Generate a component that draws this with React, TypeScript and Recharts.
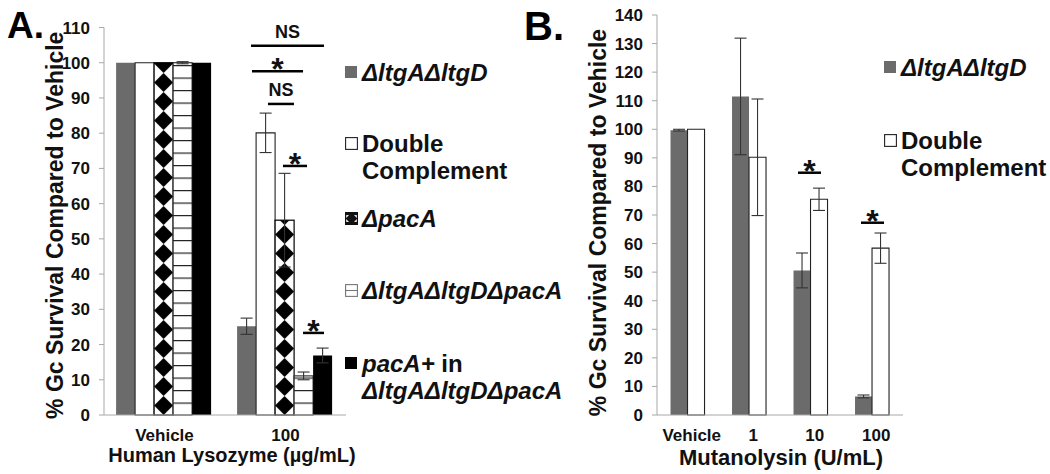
import React from 'react';
import { BarChart, Bar, XAxis, YAxis, ErrorBar, ReferenceLine, Legend } from 'recharts';

const FONT = '"Liberation Sans", Arial, Helvetica, sans-serif';
const AXIS = '#a8a8a8';
const GRAY = '#6b6b6b';
const INK = '#111111';

// ---------- Panel A : Human lysozyme ----------
const lysCategories = ['Vehicle', '100'];
const lysDouble = [100, 25.2];
const lysDoubleErr = [0, 2.3];
const lysDoubleComp = [100, 80.1];
const lysDoubleCompErr = [0, 5.6];
const lysPacA = [100, 55.3];
const lysPacAErr = [0, 13.3];
const lysTriple = [100, 11.1];
const lysTripleErr = [0.3, 1.1];
const lysPacAComp = [100, 16.9];
const lysPacACompErr = [0, 2.1];
const lysYTicks = [0, 10, 20, 30, 40, 50, 60, 70, 80, 90, 100, 110];
const lysCatTicks = [0, 1, 2];

// significance brackets (x in category units 0..2, y in %)
const lysSigLabels = ['NS', '*', 'NS', '*', '*'];
const lysSigFrom = [1.215, 1.223, 1.355, 1.479, 1.645];
const lysSigTo = [1.818, 1.645, 1.57, 1.678, 1.818];
const lysSigY = [104.8, 97.6, 88.3, 70.7, 23.3];

// ---------- Panel B : Mutanolysin ----------
const mutCategories = ['Vehicle', '1', '10', '100'];
const mutDouble = [99.7, 111.5, 50.6, 6.5];
const mutDoubleErr = [0.3, 20.4, 6.1, 0.5];
const mutDoubleComp = [100, 90.2, 75.5, 58.4];
const mutDoubleCompErr = [0, 20.4, 3.9, 5.3];
const mutYTicks = [0, 10, 20, 30, 40, 50, 60, 70, 80, 90, 100, 110, 120, 130, 140];
const mutCatTicks = [0, 1, 2, 3, 4];

const mutSigLabels = ['*', '*'];
const mutSigFrom = [2.293, 3.317];
const mutSigTo = [2.667, 3.691];
const mutSigY = [84.8, 67.3];

const lysData = lysCategories.map((cat, i) => ({
  cat,
  pos: i + 0.5,
  dbl: lysDouble[i],
  dblErr: lysDoubleErr[i],
  comp: lysDoubleComp[i],
  compErr: lysDoubleCompErr[i],
  pac: lysPacA[i],
  pacErr: lysPacAErr[i],
  tri: lysTriple[i],
  triErr: lysTripleErr[i],
  pcomp: lysPacAComp[i],
  pcompErr: lysPacACompErr[i],
}));

const mutData = mutCategories.map((cat, i) => ({
  cat,
  pos: i + 0.5,
  dbl: mutDouble[i],
  dblErr: mutDoubleErr[i],
  comp: mutDoubleComp[i],
  compErr: mutDoubleCompErr[i],
}));

const DiamondBar = (props: any) => {
  const { x, y, width, height, index, pid } = props;
  if (width == null || height == null || height <= 0) return null;
  const id = `dia-${pid}-${index}`;
  const th = width;
  return (
    <g>
      <defs>
        <pattern id={id} patternUnits="userSpaceOnUse" x={x} y={y + height} width={width} height={th}>
          <rect x={0} y={0} width={width} height={th} fill="#fff" />
          <polygon points={`${width / 2},0 ${width},${th / 2} ${width / 2},${th} 0,${th / 2}`} fill="#000" />
        </pattern>
      </defs>
      <rect x={x} y={y} width={width} height={height} fill={`url(#${id})`} stroke="#000" strokeWidth={1.2} />
    </g>
  );
};

const StripeBar = (props: any) => {
  const { x, y, width, height, index, pid } = props;
  if (width == null || height == null || height <= 0) return null;
  const id = `str-${pid}-${index}`;
  const th = 12.5;
  return (
    <g>
      <defs>
        <pattern id={id} patternUnits="userSpaceOnUse" x={x} y={y + height} width={width} height={th}>
          <rect x={0} y={0} width={width} height={th} fill="#fff" />
          <line x1={0} x2={width} y1={0.6} y2={0.6} stroke="#222" strokeWidth={1.2} />
        </pattern>
      </defs>
      <rect x={x} y={y} width={width} height={height} fill={`url(#${id})`} stroke="#222" strokeWidth={1.1} />
    </g>
  );
};

const Swatch = ({ kind }: { kind: string }) => {
  if (kind === 'gray') return <svg width={12} height={12}><rect x={0} y={0} width={12} height={12} fill={GRAY} /></svg>;
  if (kind === 'black') return <svg width={12} height={12}><rect x={0} y={0} width={12} height={12} fill="#000" /></svg>;
  if (kind === 'white')
    return <svg width={13} height={13}><rect x={0.6} y={0.6} width={11.8} height={11.8} fill="#fff" stroke="#222" strokeWidth={1.1} /></svg>;
  if (kind === 'stripe')
    return (
      <svg width={13} height={13}>
        <rect x={0.6} y={0.6} width={11.8} height={11.8} fill="#fff" stroke="#777" strokeWidth={1.1} />
        <line x1={0.6} x2={12.4} y1={6.5} y2={6.5} stroke="#777" strokeWidth={1.1} />
      </svg>
    );
  return (
    <svg width={13} height={13}>
      <rect x={0.6} y={0.6} width={11.8} height={11.8} fill="#fff" stroke="#111" strokeWidth={1.2} />
      <polygon points="6.5,0.6 12.4,6.5 6.5,12.4 0.6,6.5" fill="#111" />
      <rect x={0.6} y={0.6} width={11.8} height={2.5} fill="#111" />
      <rect x={0.6} y={9.9} width={11.8} height={2.5} fill="#111" />
    </svg>
  );
};

const it = (s: string) => <span style={{ fontStyle: 'italic' }}>{s}</span>;

const legendA = [
  { kind: 'gray', top: 72, lines: [[it('ΔltgAΔltgD')]] },
  { kind: 'white', top: 143, lines: [['Double'], ['Complement']] },
  { kind: 'diamond', top: 218, lines: [[it('ΔpacA')]] },
  { kind: 'stripe', top: 290, lines: [[it('ΔltgAΔltgDΔpacA')]] },
  { kind: 'black', top: 363, lines: [[it('pacA+'), ' in'], [it('ΔltgAΔltgDΔpacA')]] },
];

const legendB = [
  { kind: 'gray', top: 67, lines: [[it('ΔltgAΔltgD')]] },
  { kind: 'white', top: 140, lines: [['Double'], ['Complement']] },
];

const LegendBox = ({ items, width }: { items: any[]; width: number }) => (
  <div style={{ position: 'relative', width, height: 420, fontFamily: FONT, fontWeight: 700, fontSize: 24, color: INK, lineHeight: '27px' }}>
    {items.map((item, k) => (
      <div key={k} style={{ position: 'absolute', left: 0, top: item.top - 13.5, display: 'flex', alignItems: 'flex-start' }}>
        <div style={{ width: 13, height: 27, display: 'flex', alignItems: 'center', marginRight: 4 }}>
          <Swatch kind={item.kind} />
        </div>
        <div style={{ whiteSpace: 'nowrap' }}>
          {item.lines.map((ln: any[], j: number) => (
            <div key={j}>{ln.map((p, q) => <React.Fragment key={q}>{p}</React.Fragment>)}</div>
          ))}
        </div>
      </div>
    ))}
  </div>
);

const sigLabel = (text: string) => (props: any) => {
  const vb = props.viewBox || {};
  const cx = (vb.x || 0) + (vb.width || 0) / 2;
  const star = text === '*';
  return (
    <text x={cx} y={(vb.y || 0) + (star ? 9 : -8)} textAnchor="middle" fontFamily={FONT} fontWeight={700} fontSize={star ? 32 : 18} fill={INK}>
      {text}
    </text>
  );
};

const yTitle = (dx: number, dy: number) => (props: any) => {
  const vb = props.viewBox || {};
  const x = vb.x + vb.width + dx;
  const y = vb.y + vb.height / 2 + dy;
  return (
    <text transform={`translate(${x},${y}) rotate(-90)`} textAnchor="middle" dominantBaseline="central" fontFamily={FONT} fontWeight={700} fontSize={23} fill={INK}>
      % Gc Survival Compared to Vehicle
    </text>
  );
};

const xTitle = (text: string, dx: number, dy: number, size: number) => (props: any) => {
  const vb = props.viewBox || {};
  return (
    <text x={vb.x + vb.width / 2 + dx} y={vb.y + dy} textAnchor="middle" fontFamily={FONT} fontWeight={700} fontSize={size} fill={INK}>
      {text}
    </text>
  );
};

const tickStyle = { fontSize: 17, fontWeight: 700, fill: INK, fontFamily: FONT };
const errProps = { width: 6, stroke: '#333', strokeWidth: 1.1 };

export default function App() {
  return (
    <div style={{ position: 'absolute', left: 0, top: 0, width: 1050, height: 474, background: '#fff', fontFamily: FONT }}>
      <div style={{ position: 'absolute', left: 0, top: 0 }}>
        <BarChart width={590} height={474} data={lysData} margin={{ top: 27.5, right: 244, bottom: 29, left: 54 }} barCategoryGap="10%" barGap={0}>
          <XAxis xAxisId="num" dataKey="pos" type="number" domain={[0, 2]} allowDataOverflow ticks={lysCatTicks} tick={false} axisLine={false} tickLine={{ stroke: AXIS }} tickSize={5} height={1} />
          <XAxis dataKey="cat" tickLine={false} axisLine={{ stroke: AXIS }} tick={tickStyle} tickSize={5} tickMargin={9} height={29} interval={0} label={xTitle('Human Lysozyme (µg/mL)', 7, 47, 20)} />
          <YAxis domain={[0, 110]} ticks={lysYTicks} interval={0} width={50} axisLine={{ stroke: AXIS }} tickLine={{ stroke: AXIS }} tickSize={5} tickMargin={9} tick={tickStyle} label={yTitle(-49, 4)} />
          <Bar dataKey="dbl" fill={GRAY} isAnimationActive={false}>
            <ErrorBar dataKey="dblErr" {...errProps} />
          </Bar>
          <Bar dataKey="comp" fill="#fff" stroke="#222" strokeWidth={1.1} isAnimationActive={false}>
            <ErrorBar dataKey="compErr" {...errProps} />
          </Bar>
          <Bar dataKey="pac" fill="#fff" shape={(p: any) => <DiamondBar {...p} pid="a" />} isAnimationActive={false}>
            <ErrorBar dataKey="pacErr" {...errProps} />
          </Bar>
          <Bar dataKey="tri" fill="#fff" shape={(p: any) => <StripeBar {...p} pid="a" />} isAnimationActive={false}>
            <ErrorBar dataKey="triErr" {...errProps} />
          </Bar>
          <Bar dataKey="pcomp" fill="#000" isAnimationActive={false}>
            <ErrorBar dataKey="pcompErr" {...errProps} />
          </Bar>
          {lysSigLabels.map((lab, i) => (
            <ReferenceLine
              key={`ls${i}`}
              xAxisId="num"
              segment={[{ x: lysSigFrom[i], y: lysSigY[i] }, { x: lysSigTo[i], y: lysSigY[i] }]}
              stroke="#000"
              strokeWidth={2.5}
              ifOverflow="visible"
              label={sigLabel(lab)}
            />
          ))}
          <Legend layout="horizontal" verticalAlign="middle" align="center" wrapperStyle={{ left: 345, top: 0 }} content={() => <LegendBox items={legendA} width={240} />} />
        </BarChart>
      </div>

      <div style={{ position: 'absolute', left: 500, top: 0 }}>
        <BarChart width={550} height={474} data={mutData} margin={{ top: 15, right: 147, bottom: 29, left: 107 }} barCategoryGap="22%" barGap={0}>
          <XAxis xAxisId="num" dataKey="pos" type="number" domain={[0, 4]} allowDataOverflow ticks={mutCatTicks} tick={false} axisLine={false} tickLine={{ stroke: AXIS }} tickSize={5} height={1} />
          <XAxis dataKey="cat" tickLine={false} axisLine={{ stroke: AXIS }} tick={{ ...tickStyle, dx: 4 } as any} tickSize={5} tickMargin={9} height={29} interval={0} label={xTitle('Mutanolysin (U/mL)', 1, 50, 22)} />
          <YAxis domain={[0, 140]} ticks={mutYTicks} interval={0} width={50} axisLine={{ stroke: AXIS }} tickLine={{ stroke: AXIS }} tickSize={5} tickMargin={9} tick={tickStyle} label={yTitle(-59, 7.5)} />
          <Bar dataKey="dbl" fill={GRAY} isAnimationActive={false}>
            <ErrorBar dataKey="dblErr" {...errProps} />
          </Bar>
          <Bar dataKey="comp" fill="#fff" stroke="#222" strokeWidth={1.1} isAnimationActive={false}>
            <ErrorBar dataKey="compErr" {...errProps} />
          </Bar>
          {mutSigLabels.map((lab, i) => (
            <ReferenceLine
              key={`ms${i}`}
              xAxisId="num"
              segment={[{ x: mutSigFrom[i], y: mutSigY[i] }, { x: mutSigTo[i], y: mutSigY[i] }]}
              stroke="#000"
              strokeWidth={2.5}
              ifOverflow="visible"
              label={sigLabel(lab)}
            />
          ))}
          <Legend layout="horizontal" verticalAlign="middle" align="center" wrapperStyle={{ left: 384, top: 0 }} content={() => <LegendBox items={legendB} width={165} />} />
        </BarChart>
      </div>

      <svg width={1050} height={474} style={{ position: 'absolute', left: 0, top: 0, pointerEvents: 'none' }}>
        <text x={7} y={38} fontFamily={FONT} fontWeight={700} fontSize={37} fill="#000">A.</text>
        <text x={524} y={40} fontFamily={FONT} fontWeight={700} fontSize={40} fill="#000">B.</text>
      </svg>
    </div>
  );
}
